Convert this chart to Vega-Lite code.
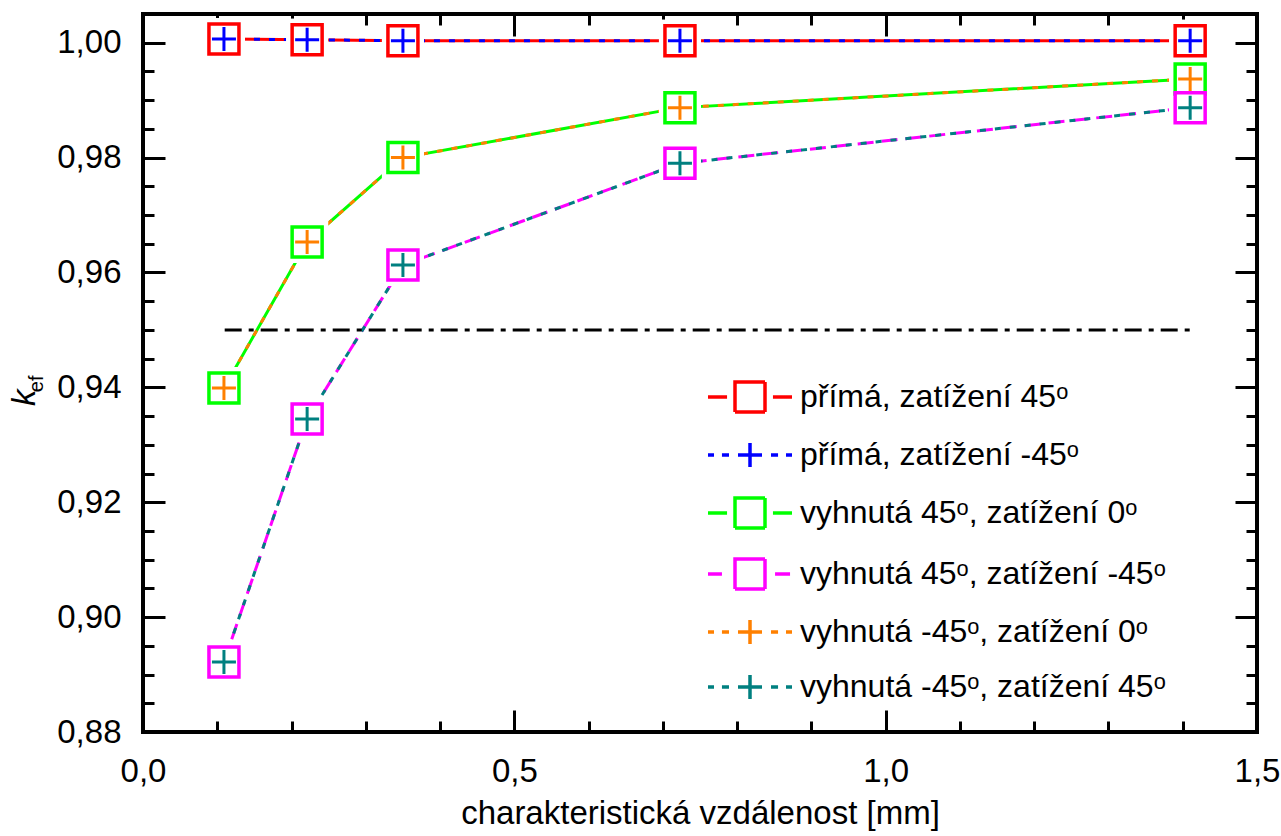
{
  "$schema": "https://vega.github.io/schema/vega-lite/v6.json",
  "width": 1114,
  "height": 718,
  "autosize": {"type": "none"},
  "padding": {"left": 143, "top": 14, "right": 24, "bottom": 104},
  "background": "white",
  "config": {
    "view": {"stroke": "black", "strokeWidth": 4},
    "font": "Liberation Sans",
    "axis": {"labelFont": "Liberation Sans", "titleFont": "Liberation Sans"}
  },
  "datasets": {
    "pts": [
      {"series": "a", "x": 0.109, "y": 1.00064},
      {"series": "a", "x": 0.221, "y": 1.00052},
      {"series": "a", "x": 0.350, "y": 1.00035},
      {"series": "a", "x": 0.723, "y": 1.00035},
      {"series": "a", "x": 1.410, "y": 1.00035},
      {"series": "b", "x": 0.109, "y": 1.00064},
      {"series": "b", "x": 0.221, "y": 1.00052},
      {"series": "b", "x": 0.350, "y": 1.00035},
      {"series": "b", "x": 0.723, "y": 1.00035},
      {"series": "b", "x": 1.410, "y": 1.00035},
      {"series": "c", "x": 0.109, "y": 0.9399},
      {"series": "c", "x": 0.221, "y": 0.9653},
      {"series": "c", "x": 0.350, "y": 0.9800},
      {"series": "c", "x": 0.723, "y": 0.9887},
      {"series": "c", "x": 1.410, "y": 0.9937},
      {"series": "d", "x": 0.109, "y": 0.8922},
      {"series": "d", "x": 0.221, "y": 0.9345},
      {"series": "d", "x": 0.350, "y": 0.9613},
      {"series": "d", "x": 0.723, "y": 0.9790},
      {"series": "d", "x": 1.410, "y": 0.9887},
      {"series": "e", "x": 0.109, "y": 0.9399},
      {"series": "e", "x": 0.221, "y": 0.9653},
      {"series": "e", "x": 0.350, "y": 0.9800},
      {"series": "e", "x": 0.723, "y": 0.9887},
      {"series": "e", "x": 1.410, "y": 0.9937},
      {"series": "f", "x": 0.109, "y": 0.8922},
      {"series": "f", "x": 0.221, "y": 0.9345},
      {"series": "f", "x": 0.350, "y": 0.9613},
      {"series": "f", "x": 0.723, "y": 0.9790},
      {"series": "f", "x": 1.410, "y": 0.9887}
    ],
    "ref": [{"x": 0.11, "x2": 1.41, "y": 0.95}]
  },
  "layer": [
    {
      "data": {"name": "pts"},
      "transform": [{"filter": "datum.series == 'a' || datum.series == 'c'"}],
      "mark": {"type": "line", "strokeWidth": 3},
      "encoding": {
        "x": {
          "field": "x", "type": "quantitative",
          "scale": {"domain": [0, 1.5], "nice": false, "zero": false},
          "axis": {
            "orient": "bottom",
            "values": [0, 0.1, 0.2, 0.3, 0.4, 0.5, 0.6, 0.7, 0.8, 0.9, 1, 1.1, 1.2, 1.3, 1.4, 1.5],
            "title": "charakteristická vzdálenost [mm]",
            "domain": false, "grid": false,
            "tickColor": "black", "tickWidth": 3,
            "tickSize": {"condition": {"test": "round(datum.value*10) % 5 == 0", "value": -22}, "value": -11},
            "labelExpr": "round(datum.value*10) % 5 == 0 ? replace(format(datum.value, '.1f'), '.', ',') : ''",
            "labelFontSize": 33, "labelColor": "black", "labelPadding": 45,
            "labelOverlap": false, "labelFlush": false,
            "titleFontSize": 33, "titleFontWeight": "normal", "titleColor": "black", "titlePadding": -2
          }
        },
        "y": {
          "field": "y", "type": "quantitative",
          "scale": {"domain": [0.88, 1.005], "nice": false, "zero": false},
          "axis": {
            "orient": "left",
            "values": [0.88, 0.885, 0.89, 0.895, 0.9, 0.905, 0.91, 0.915, 0.92, 0.925, 0.93, 0.935, 0.94, 0.945, 0.95, 0.955, 0.96, 0.965, 0.97, 0.975, 0.98, 0.985, 0.99, 0.995, 1, 1.005],
            "title": null,
            "domain": false, "grid": false,
            "tickColor": "black", "tickWidth": 3,
            "tickSize": {"condition": {"test": "round(datum.value*1000) % 20 == 0", "value": -22}, "value": -11},
            "labelExpr": "round(datum.value*1000) % 20 == 0 ? replace(format(datum.value, '.2f'), '.', ',') : ''",
            "labelFontSize": 33, "labelColor": "black", "labelPadding": 44,
            "labelOverlap": false, "labelFlush": false
          }
        },
        "color": {
          "field": "series", "type": "nominal",
          "scale": {"domain": ["a", "b", "c", "d", "e", "f"], "range": ["#ff0000", "#0000ff", "#00ff00", "#ff00ff", "#ff8000", "#008080"]},
          "legend": {
            "orient": "none", "legendX": 590, "legendY": 366, "title": null, "padding": 0,
            "labelExpr": "datum.value == 'a' ? 'přímá, zatížení 45ᵒ' : datum.value == 'b' ? 'přímá, zatížení -45ᵒ' : datum.value == 'c' ? 'vyhnutá 45ᵒ, zatížení 0ᵒ' : datum.value == 'd' ? 'vyhnutá 45ᵒ, zatížení -45ᵒ' : datum.value == 'e' ? 'vyhnutá -45ᵒ, zatížení 0ᵒ' : 'vyhnutá -45ᵒ, zatížení 45ᵒ'",
            "labelFontSize": 32, "labelColor": "black", "labelFont": "Liberation Sans", "labelOffset": 33, "labelLimit": 0,
            "symbolSize": 900, "symbolStrokeWidth": 3.5, "rowPadding": 17, "symbolType": "M-1,0H1", "symbolDash": [1, 0],
            "encode": {
              "symbols": {
                "update": {
                  "shape": {"signal": "datum.value == 'a' || datum.value == 'c' ? 'M-2.8,0H-1.53M1.53,0H2.8M-1,-1H1V1H-1Z' : datum.value == 'd' ? 'M-2.8,0H-1.87M1.67,0H2.67M-1,-1H1V1H-1Z' : 'M-2.8,0H-2.4M-1.87,0H-1.4M1.4,0H1.87M2.4,0H2.8M-0.8,0H0.8M0,-0.8V0.8'"},
                  "fill": {"value": "transparent"}
                }
              }
            }
          }
        }
      }
    },
    {
      "data": {"name": "pts"},
      "transform": [{"filter": "datum.series == 'd'"}],
      "mark": {"type": "line", "strokeWidth": 3, "strokeDash": [16, 8]},
      "encoding": {
        "x": {"field": "x", "type": "quantitative", "scale": {"domain": [0, 1.5], "nice": false, "zero": false}, "axis": null},
        "y": {"field": "y", "type": "quantitative", "scale": {"domain": [0.88, 1.005], "nice": false, "zero": false}, "axis": null},
        "color": {
          "field": "series", "type": "nominal",
          "scale": {"domain": ["a", "b", "c", "d", "e", "f"], "range": ["#ff0000", "#0000ff", "#00ff00", "#ff00ff", "#ff8000", "#008080"]},
          "legend": null
        }
      }
    },
    {
      "data": {"name": "pts"},
      "transform": [{"filter": "datum.series == 'b' || datum.series == 'e' || datum.series == 'f'"}],
      "mark": {"type": "line", "strokeWidth": 3, "strokeDash": [6, 9]},
      "encoding": {
        "x": {"field": "x", "type": "quantitative", "scale": {"domain": [0, 1.5], "nice": false, "zero": false}, "axis": null},
        "y": {"field": "y", "type": "quantitative", "scale": {"domain": [0.88, 1.005], "nice": false, "zero": false}, "axis": null},
        "color": {
          "field": "series", "type": "nominal",
          "scale": {"domain": ["a", "b", "c", "d", "e", "f"], "range": ["#ff0000", "#0000ff", "#00ff00", "#ff00ff", "#ff8000", "#008080"]},
          "legend": null
        }
      }
    },
    {
      "data": {"name": "ref"},
      "mark": {"type": "rule", "color": "black", "strokeWidth": 3, "strokeDash": [17, 7, 5, 7]},
      "encoding": {
        "x": {
          "field": "x", "type": "quantitative",
          "scale": {"domain": [0, 1.5], "nice": false, "zero": false},
          "axis": {
            "orient": "top",
            "values": [0, 0.1, 0.2, 0.3, 0.4, 0.5, 0.6, 0.7, 0.8, 0.9, 1, 1.1, 1.2, 1.3, 1.4, 1.5],
            "title": null, "labels": false, "domain": false, "grid": false,
            "tickColor": "black", "tickWidth": 3,
            "tickSize": {"condition": {"test": "round(datum.value*10) % 5 == 0", "value": -22}, "value": -11}
          }
        },
        "x2": {"field": "x2"},
        "y": {
          "field": "y", "type": "quantitative",
          "scale": {"domain": [0.88, 1.005], "nice": false, "zero": false},
          "axis": {
            "orient": "right",
            "values": [0.88, 0.885, 0.89, 0.895, 0.9, 0.905, 0.91, 0.915, 0.92, 0.925, 0.93, 0.935, 0.94, 0.945, 0.95, 0.955, 0.96, 0.965, 0.97, 0.975, 0.98, 0.985, 0.99, 0.995, 1, 1.005],
            "title": null, "labels": false, "domain": false, "grid": false,
            "tickColor": "black", "tickWidth": 3,
            "tickSize": {"condition": {"test": "round(datum.value*1000) % 20 == 0", "value": -22}, "value": -11}
          }
        }
      }
    },
    {
      "data": {"name": "pts"},
      "mark": {"type": "point", "shape": "square", "filled": true, "fill": "white", "strokeWidth": 0, "size": 1764, "opacity": 1},
      "encoding": {
        "x": {"field": "x", "type": "quantitative", "scale": {"domain": [0, 1.5], "nice": false, "zero": false}, "axis": null},
        "y": {"field": "y", "type": "quantitative", "scale": {"domain": [0.88, 1.005], "nice": false, "zero": false}, "axis": null}
      }
    },
    {
      "data": {"name": "pts"},
      "transform": [{"filter": "datum.series == 'a' || datum.series == 'c' || datum.series == 'd'"}],
      "mark": {"type": "point", "shape": "square", "filled": true, "fill": "white", "strokeWidth": 3.5, "size": 900, "opacity": 1},
      "encoding": {
        "x": {"field": "x", "type": "quantitative", "scale": {"domain": [0, 1.5], "nice": false, "zero": false}, "axis": null},
        "y": {"field": "y", "type": "quantitative", "scale": {"domain": [0.88, 1.005], "nice": false, "zero": false}, "axis": null},
        "stroke": {
          "field": "series", "type": "nominal",
          "scale": {"domain": ["a", "b", "c", "d", "e", "f"], "range": ["#ff0000", "#0000ff", "#00ff00", "#ff00ff", "#ff8000", "#008080"]},
          "legend": null
        }
      }
    },
    {
      "data": {"name": "pts"},
      "transform": [{"filter": "datum.series == 'b' || datum.series == 'e' || datum.series == 'f'"}],
      "mark": {"type": "point", "shape": "M-1,0H1M0,-1V1", "filled": false, "strokeWidth": 3, "size": 576, "opacity": 1},
      "encoding": {
        "x": {"field": "x", "type": "quantitative", "scale": {"domain": [0, 1.5], "nice": false, "zero": false}, "axis": null},
        "y": {"field": "y", "type": "quantitative", "scale": {"domain": [0.88, 1.005], "nice": false, "zero": false}, "axis": null},
        "stroke": {
          "field": "series", "type": "nominal",
          "scale": {"domain": ["a", "b", "c", "d", "e", "f"], "range": ["#ff0000", "#0000ff", "#00ff00", "#ff00ff", "#ff8000", "#008080"]},
          "legend": null
        }
      }
    },
    {
      "data": {"values": [{"t": "k"}]},
      "mark": {"type": "text", "font": "Liberation Sans", "fontStyle": "italic", "fontSize": 33, "angle": 270, "align": "center", "baseline": "alphabetic", "color": "black", "clip": false},
      "encoding": {
        "x": {"datum": -0.1454, "type": "quantitative", "scale": {"domain": [0, 1.5], "nice": false, "zero": false}, "axis": null},
        "y": {"datum": 0.93817, "type": "quantitative", "scale": {"domain": [0.88, 1.005], "nice": false, "zero": false}, "axis": null},
        "text": {"field": "t"}
      }
    },
    {
      "data": {"values": [{"t": "ef"}]},
      "mark": {"type": "text", "font": "Liberation Sans", "fontSize": 20, "angle": 270, "align": "center", "baseline": "alphabetic", "color": "black", "clip": false},
      "encoding": {
        "x": {"datum": -0.1346, "type": "quantitative", "scale": {"domain": [0, 1.5], "nice": false, "zero": false}, "axis": null},
        "y": {"datum": 0.94061, "type": "quantitative", "scale": {"domain": [0.88, 1.005], "nice": false, "zero": false}, "axis": null},
        "text": {"field": "t"}
      }
    }
  ],
  "resolve": {"axis": {"x": "independent", "y": "independent"}}
}
